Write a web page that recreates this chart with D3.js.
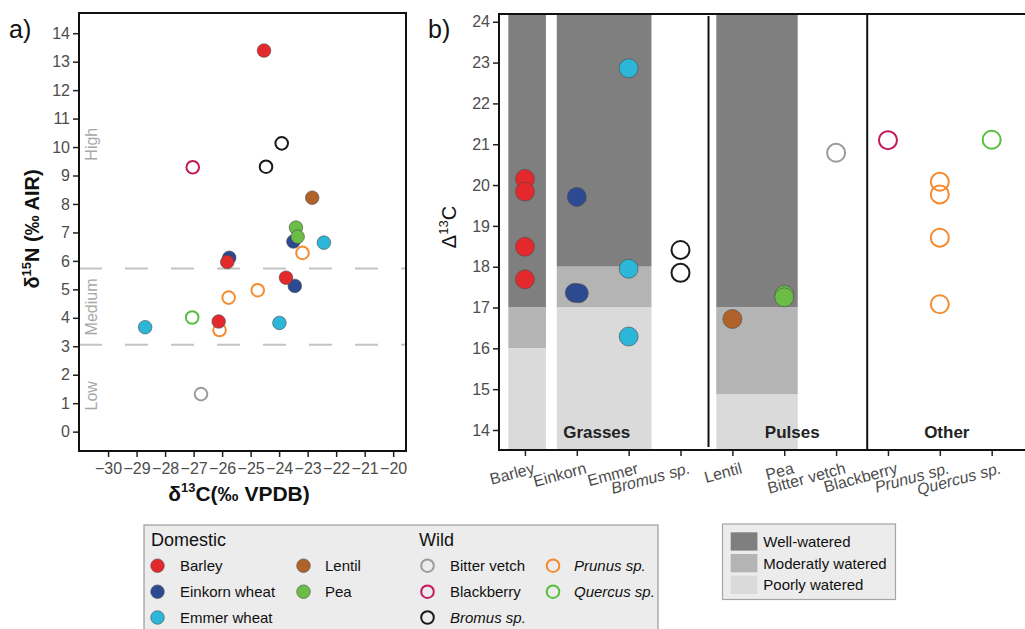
<!DOCTYPE html>
<html>
<head>
<meta charset="utf-8">
<script src="https://cdn.jsdelivr.net/npm/d3@7"></script>
<style>
  body { margin: 0; background: #fff; }
  svg { display: block; font-family: "Liberation Sans", Arial, sans-serif; }
</style>
</head>
<body>
<svg id="chart" width="1025" height="629"></svg>
<script>
// ---------- Taxa ----------
const domesticTaxa = ["Barley", "Einkorn wheat", "Emmer wheat", "Lentil", "Pea"];
const wildTaxa = ["Bitter vetch", "Blackberry", "Bromus sp.", "Prunus sp.", "Quercus sp."];
const taxonColors = ["#e3292b", "#2b4a92", "#2cb6d8", "#b0622b", "#6cbd45",
                     "#9b9b9b", "#c4185a", "#1a1a1a", "#f58b2e", "#5bbd3e"];

// ---------- Panel a: δ13C (‰ VPDB), δ15N (‰ AIR) ----------
const barleyIso   = [[-24.53, 13.39], [-25.82, 5.96], [-23.76, 5.41], [-26.12, 3.87]];
const einkornIso  = [[-23.50, 6.68], [-25.75, 6.11], [-23.45, 5.12]];
const emmerIso    = [[-22.43, 6.64], [-28.70, 3.67], [-23.99, 3.82]];
const lentilIso   = [[-22.84, 8.22]];
const peaIso      = [[-23.41, 7.17], [-23.35, 6.85]];
const vetchIso    = [[-26.74, 1.32]];
const blackberryIso = [[-27.03, 9.29]];
const bromusIso   = [[-23.91, 10.13], [-24.46, 9.31]];
const prunusIso   = [[-23.18, 6.28], [-24.75, 4.97], [-25.77, 4.71], [-26.09, 3.57]];
const quercusIso  = [[-27.05, 4.01]];

const xTicksA = [-30, -29, -28, -27, -26, -25, -24, -23, -22, -21, -20];
const yTicksA = d3.range(0, 15);
const nitrogenBounds = [3.05, 5.73];
const nitrogenLevels = [["Low", 1.26], ["Medium", 4.38], ["High", 10.1]];

// ---------- Panel b: Δ13C ----------
const categoriesB = ["Barley", "Einkorn", "Emmer", "Bromus sp.", "Lentil", "Pea",
                     "Bitter vetch", "Blackberry", "Prunus sp.", "Quercus sp."];
const italicCategories = ["Bromus sp.", "Prunus sp.", "Quercus sp."];
const barleyD   = [20.15, 19.84, 18.49, 17.69];
const einkornD  = [19.71, 17.36, 17.35];
const emmerD    = [22.86, 17.95, 16.29];
const bromusD   = [18.41, 17.85];
const lentilD   = [16.72];
const peaD      = [17.31, 17.25];
const vetchD    = [20.79];
const blackberryD = [21.10];
const prunusD   = [20.08, 19.77, 18.71, 17.08];
const quercusD  = [21.11];
const yTicksB = d3.range(14, 25);

// Watering thresholds (Δ13C) per crop block: above "well" = well-watered,
// between "moderate" and "well" = moderately watered, below = poorly watered.
const wateringBlocks = [
  { cats: ["Barley"], well: 17, moderate: 16 },
  { cats: ["Einkorn", "Emmer"], well: 18, moderate: 17 },
  { cats: ["Lentil", "Pea"], well: 17, moderate: 14.87 }
];
const wateringLabels = ["Well-watered", "Moderatly watered", "Poorly watered"];
const wateringColors = ["#7f7f7f", "#b4b4b4", "#d9dad9"];

const groupNames = ["Grasses", "Pulses", "Other"];
const groupMembers = [
  ["Barley", "Einkorn", "Emmer", "Bromus sp."],
  ["Lentil", "Pea", "Bitter vetch"],
  ["Blackberry", "Prunus sp.", "Quercus sp."]
];

// ---------- Assemble records ----------
const isoSets = [barleyIso, einkornIso, emmerIso, lentilIso, peaIso,
                 vetchIso, blackberryIso, bromusIso, prunusIso, quercusIso];
const allTaxa = domesticTaxa.concat(wildTaxa);
const color = d3.scaleOrdinal().domain(allTaxa).range(taxonColors);
const isDomestic = t => domesticTaxa.includes(t);

const pointsA = [];
isoSets.forEach((set, i) => set.forEach(([c, n]) => pointsA.push({ taxon: allTaxa[i], c, n })));
// wild (open) first, then einkorn, emmer, lentil, pea, barley on top
const drawOrderA = ["Bitter vetch", "Blackberry", "Bromus sp.", "Prunus sp.", "Quercus sp.",
                    "Einkorn wheat", "Emmer wheat", "Lentil", "Pea", "Barley"];
pointsA.sort((a, b) => drawOrderA.indexOf(a.taxon) - drawOrderA.indexOf(b.taxon));

const dSets = [barleyD, einkornD, emmerD, bromusD, lentilD, peaD, vetchD, blackberryD, prunusD, quercusD];
const catTaxon = ["Barley", "Einkorn wheat", "Emmer wheat", "Bromus sp.", "Lentil", "Pea",
                  "Bitter vetch", "Blackberry", "Prunus sp.", "Quercus sp."];
const pointsB = [];
dSets.forEach((set, i) => {
  set.forEach((v, j) => {
    // nudge near-identical values sideways so both stay visible
    let dodge = 0;
    set.forEach((w, k) => { if (k !== j && Math.abs(w - v) < 0.03) dodge = k < j ? 2 : -2; });
    pointsB.push({ cat: categoriesB[i], taxon: catTaxon[i], v, dodge });
  });
});

// ---------- SVG ----------
const svg = d3.select("#chart");
const tickColor = "#4d4d4d";

function styleAxis(ax, size) {
  ax.select(".domain").remove();
  ax.selectAll(".tick line").attr("stroke", "#222").attr("stroke-width", 1.5);
  ax.selectAll(".tick text").attr("font-size", size).attr("fill", tickColor)
    .attr("font-family", "Liberation Sans, Arial, sans-serif");
}

function drawPoint(sel, r) {
  sel.attr("r", d => isDomestic(d.taxon) ? r : r - 0.5)
    .attr("fill", d => isDomestic(d.taxon) ? color(d.taxon) : "none")
    .attr("stroke", d => isDomestic(d.taxon) ? "#4a4a4a" : color(d.taxon))
    .attr("stroke-width", d => isDomestic(d.taxon) ? 0.6 : 2);
}

// ======== Panel a ========
const xA = d3.scaleLinear().domain([-31.02, -19.55]).range([79, 406]);
const yA = d3.scaleLinear().domain([-0.68, 14.71]).range([451, 13]);
const gA = svg.append("g");

// dashed nitrogen-level boundaries
gA.selectAll("line.bound").data(nitrogenBounds).join("line")
  .attr("class", "bound")
  .attr("x1", xA.range()[0]).attr("x2", xA.range()[1])
  .attr("y1", d => yA(d)).attr("y2", d => yA(d))
  .attr("stroke", "#c4c4c4").attr("stroke-width", 2)
  .attr("stroke-dasharray", "23,23");

gA.selectAll("text.level").data(nitrogenLevels).join("text")
  .attr("class", "level")
  .attr("transform", d => `translate(97,${yA(d[1])}) rotate(-90)`)
  .attr("text-anchor", "middle")
  .attr("font-size", 16).attr("fill", "#a8a8a8")
  .text(d => d[0]);

const axA_y = gA.append("g").attr("transform", `translate(${xA.range()[0]},0)`)
  .call(d3.axisLeft(yA).tickValues(yTicksA).tickSize(6).tickPadding(3).tickSizeOuter(0));
const axA_x = gA.append("g").attr("transform", `translate(0,${yA.range()[0]})`)
  .call(d3.axisBottom(xA).tickValues(xTicksA).tickSize(6).tickPadding(3).tickSizeOuter(0)
        .tickFormat(d3.format("d")));
styleAxis(axA_y, 16);
styleAxis(axA_x, 16);
axA_x.selectAll(".tick text").attr("dy", "0.85em");

// frame
gA.append("rect")
  .attr("x", xA.range()[0]).attr("y", yA.range()[1])
  .attr("width", xA.range()[1] - xA.range()[0]).attr("height", yA.range()[0] - yA.range()[1])
  .attr("fill", "none").attr("stroke", "#111").attr("stroke-width", 2);

gA.selectAll("circle.pt").data(pointsA).join("circle")
  .attr("class", "pt")
  .attr("cx", d => xA(d.c)).attr("cy", d => yA(d.n))
  .call(drawPoint, 6.8);

svg.append("text").attr("x", 9).attr("y", 38).attr("font-size", 25).attr("fill", "#111").text("a)");

const yLabA = svg.append("text")
  .attr("transform", `translate(39,229) rotate(-90)`)
  .attr("text-anchor", "middle").attr("font-size", 20).attr("font-weight", "bold").attr("fill", "#111");
yLabA.append("tspan").text("δ");
yLabA.append("tspan").attr("font-size", 13).attr("dy", -8).text("15");
yLabA.append("tspan").attr("dy", 8).text("N (‰ AIR)");

const xLabA = svg.append("text")
  .attr("x", 239).attr("y", 501)
  .attr("text-anchor", "middle").attr("font-size", 21).attr("font-weight", "bold").attr("fill", "#111");
xLabA.append("tspan").text("δ");
xLabA.append("tspan").attr("font-size", 13).attr("dy", -9).text("13");
xLabA.append("tspan").attr("dy", 9).text("C(‰ VPDB)");

// ======== Panel b ========
const xB = d3.scalePoint().domain(categoriesB).range([499, 1017.6]).padding(0.5);
const step = xB.step();
const yB = d3.scaleLinear().domain([13.51, 24.19]).range([450, 14]);
const gB = svg.append("g");

// horizontal extent of each watering block, in category steps
const blockPad = { "Barley": [-0.32, 0.405], "Einkorn": [-0.386, 0.44], "Lentil": [-0.31, 0.26] };

wateringBlocks.forEach(b => {
  const pad = blockPad[b.cats[0]];
  const x0 = xB(b.cats[0]) + pad[0] * step;
  const x1 = xB(b.cats[b.cats.length - 1]) + pad[1] * step;
  const top = yB.domain()[1], bottom = yB.domain()[0];
  const bands = [[top, b.well], [b.well, b.moderate], [b.moderate, bottom]];
  bands.forEach((band, i) => {
    gB.append("rect")
      .attr("x", x0).attr("width", x1 - x0)
      .attr("y", yB(band[0])).attr("height", yB(band[1]) - yB(band[0]))
      .attr("fill", wateringColors[i]);
  });
});

// group separators
const sepAfter = [["Bromus sp.", 0.54, 16, 447], ["Bitter vetch", 0.6, 14, 450]];
sepAfter.forEach(([c, f, y0, y1]) => {
  const x = xB(c) + f * step;
  gB.append("line").attr("x1", x).attr("x2", x).attr("y1", y0).attr("y2", y1)
    .attr("stroke", "#111").attr("stroke-width", 2);
});

// group names
const groupShift = { "Grasses": -6, "Pulses": 8, "Other": 7 };
groupNames.forEach((g, i) => {
  const cx = d3.mean(groupMembers[i], c => xB(c)) + groupShift[g];
  gB.append("text").attr("x", cx).attr("y", 438)
    .attr("text-anchor", "middle").attr("font-size", 17).attr("font-weight", "bold")
    .attr("fill", "#222").text(g);
});

const axB_y = gB.append("g").attr("transform", `translate(${xB.range()[0]},0)`)
  .call(d3.axisLeft(yB).tickValues(yTicksB).tickSize(6).tickPadding(3).tickSizeOuter(0));
const axB_x = gB.append("g").attr("transform", `translate(0,${yB.range()[0]})`)
  .call(d3.axisBottom(xB).tickSize(6).tickSizeOuter(0));
styleAxis(axB_y, 16);
styleAxis(axB_x, 16);
axB_x.selectAll(".tick text")
  .attr("y", 0).attr("dy", 0)
  .attr("text-anchor", "end")
  .attr("font-style", d => italicCategories.includes(d) ? "italic" : "normal")
  .attr("transform", "translate(10,23) rotate(-15)");

// frame lines: left, bottom, top (open on the right)
const xL = xB.range()[0];
gB.append("line").attr("x1", xL).attr("x2", xL).attr("y1", yB.range()[1]).attr("y2", yB.range()[0])
  .attr("stroke", "#111").attr("stroke-width", 2);
gB.append("line").attr("x1", xL - 1).attr("x2", 1026).attr("y1", yB.range()[0]).attr("y2", yB.range()[0])
  .attr("stroke", "#111").attr("stroke-width", 2);
gB.append("line").attr("x1", xL - 1).attr("x2", 1026).attr("y1", yB.range()[1]).attr("y2", yB.range()[1])
  .attr("stroke", "#111").attr("stroke-width", 2);

gB.selectAll("circle.pt").data(pointsB).join("circle")
  .attr("class", "pt")
  .attr("cx", d => xB(d.cat) + d.dodge).attr("cy", d => yB(d.v))
  .call(drawPoint, 9.5);

svg.append("text").attr("x", 428).attr("y", 38).attr("font-size", 25).attr("fill", "#111").text("b)");

const yLabB = svg.append("text")
  .attr("transform", `translate(456,227) rotate(-90)`)
  .attr("text-anchor", "middle").attr("font-size", 20).attr("fill", "#111");
yLabB.append("tspan").text("Δ");
yLabB.append("tspan").attr("font-size", 13).attr("dy", -8).text("13");
yLabB.append("tspan").attr("dy", 8).text("C");

// ======== Legends ========
const lg = svg.append("g");
lg.append("rect").attr("x", 144).attr("y", 525).attr("width", 514).attr("height", 120)
  .attr("fill", "#ececec").attr("stroke", "#9a9a9a").attr("stroke-width", 1.2);
lg.append("text").attr("x", 151).attr("y", 546).attr("font-size", 18).attr("fill", "#111").text("Domestic");
lg.append("text").attr("x", 419).attr("y", 546).attr("font-size", 18).attr("fill", "#111").text("Wild");

const legendCols = [
  { items: domesticTaxa.slice(0, 3), cx: 157.5, tx: 180 },
  { items: domesticTaxa.slice(3), cx: 303.5, tx: 325 },
  { items: wildTaxa.slice(0, 3), cx: 427.5, tx: 450 },
  { items: wildTaxa.slice(3), cx: 553, tx: 574 }
];
const rowY = [565.7, 591.7, 617.5];
legendCols.forEach(col => {
  col.items.forEach((t, i) => {
    lg.append("circle").datum({ taxon: t })
      .attr("cx", col.cx).attr("cy", rowY[i]).call(drawPoint, 6.8);
    lg.append("text").attr("x", col.tx).attr("y", rowY[i] + 5.5)
      .attr("font-size", 15).attr("fill", "#111")
      .attr("font-style", italicCategories.includes(t) ? "italic" : "normal")
      .text(t);
  });
});

const lg2 = svg.append("g");
lg2.append("rect").attr("x", 722.5).attr("y", 524).attr("width", 173).attr("height", 75.5)
  .attr("fill", "#ececec").attr("stroke", "#a5a5a5").attr("stroke-width", 1.2);
wateringLabels.forEach((lab, i) => {
  const y = 532.3 + i * 21.7;
  lg2.append("rect").attr("x", 730.7).attr("y", y).attr("width", 26.7).attr("height", 18.3)
    .attr("fill", wateringColors[i]);
  lg2.append("text").attr("x", 763.3).attr("y", y + 14.5)
    .attr("font-size", 15).attr("fill", "#111").text(lab);
});
</script>
</body>
</html>
